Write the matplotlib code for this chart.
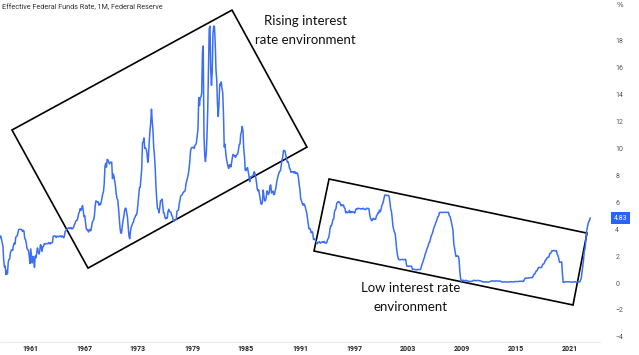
import numpy as np
import matplotlib
matplotlib.use("Agg")
import matplotlib.pyplot as plt
import matplotlib.transforms as mtransforms
from matplotlib.patches import Polygon

# ---------------------------------------------------------------
# Effective Federal Funds Rate, monthly (%), Aug 1957 -> Apr 2023
# ---------------------------------------------------------------
rate_1950s = [3.24, 3.47, 3.50, 3.28, 2.98,
              2.72, 1.67, 1.20, 1.26, 0.63, 0.93, 0.68, 1.53, 1.76, 1.80, 2.27, 2.42,
              2.48, 2.43, 2.80, 2.96, 2.90, 3.39, 3.47, 3.50, 3.76, 3.98, 4.00, 3.99]
rate_1960s = [3.99, 3.97, 3.84, 3.92, 3.85, 3.32, 3.23, 2.98, 2.60, 2.47, 2.44, 1.98,
              1.45, 2.54, 2.02, 1.49, 1.98, 1.73, 1.17, 2.00, 1.88, 2.26, 2.61, 2.33,
              2.15, 2.37, 2.85, 2.78, 2.36, 2.68, 2.71, 2.93, 2.90, 2.90, 2.94, 2.93,
              2.92, 3.00, 2.98, 2.90, 3.00, 2.99, 3.02, 3.49, 3.48, 3.50, 3.48, 3.38,
              3.48, 3.48, 3.43, 3.47, 3.50, 3.50, 3.42, 3.50, 3.45, 3.36, 3.52, 3.85,
              3.90, 3.98, 4.04, 4.09, 4.10, 4.04, 4.09, 4.12, 4.01, 4.08, 4.10, 4.32,
              4.42, 4.60, 4.65, 4.67, 4.90, 5.17, 5.30, 5.53, 5.40, 5.53, 5.76, 5.40,
              4.94, 5.00, 4.53, 4.05, 3.94, 3.98, 3.79, 3.90, 3.99, 3.88, 4.13, 4.51,
              4.61, 4.71, 5.05, 5.76, 6.11, 6.07, 6.02, 6.03, 5.78, 5.91, 5.82, 6.02,
              6.30, 6.61, 6.79, 7.41, 8.67, 8.90, 8.61, 9.19, 9.15, 9.00, 8.85, 8.97]
rate_1970s = [8.98, 8.98, 7.76, 8.10, 7.94, 7.60, 7.21, 6.61, 6.29, 6.20, 5.60, 4.90,
              4.14, 3.72, 3.71, 4.16, 4.63, 4.91, 5.31, 5.56, 5.55, 5.20, 4.91, 4.14,
              3.50, 3.29, 3.83, 4.17, 4.27, 4.46, 4.55, 4.80, 4.87, 5.04, 5.06, 5.33,
              5.94, 6.58, 7.09, 7.12, 7.84, 8.49, 10.40, 10.50, 10.78, 10.01, 10.03, 9.95,
              9.65, 8.97, 9.35, 10.51, 11.31, 11.93, 12.92, 12.01, 11.34, 10.06, 9.45, 8.53,
              7.13, 6.24, 5.54, 5.49, 5.22, 5.55, 6.10, 6.14, 6.24, 5.82, 5.22, 5.20,
              4.87, 4.77, 4.84, 4.82, 5.29, 5.48, 5.31, 5.29, 5.25, 5.02, 4.95, 4.65,
              4.61, 4.68, 4.69, 4.73, 5.35, 5.39, 5.42, 5.90, 6.14, 6.47, 6.51, 6.56,
              6.70, 6.78, 6.79, 6.89, 7.36, 7.60, 7.81, 8.04, 8.45, 8.96, 9.76, 10.03,
              10.07, 10.06, 10.09, 10.01, 10.24, 10.29, 10.47, 10.94, 11.43, 13.77, 13.18, 13.78]
rate_1980s = [13.82, 14.13, 17.19, 17.61, 10.98, 9.47, 9.03, 9.61, 10.87, 12.81, 15.85, 18.90,
              19.08, 15.93, 14.70, 15.72, 18.52, 19.10, 19.04, 17.82, 15.87, 15.08, 13.31, 12.37,
              13.22, 14.78, 14.68, 14.94, 14.45, 14.15, 12.59, 10.12, 10.31, 9.71, 9.20, 8.95,
              8.68, 8.51, 8.77, 8.80, 8.63, 8.98, 9.37, 9.56, 9.45, 9.48, 9.34, 9.47,
              9.56, 9.59, 9.91, 10.29, 10.32, 11.06, 11.23, 11.64, 11.30, 9.99, 9.43, 8.38,
              8.35, 8.50, 8.58, 8.27, 7.97, 7.53, 7.88, 7.90, 7.92, 7.99, 8.05, 8.27,
              8.14, 7.86, 7.48, 6.99, 6.85, 6.92, 6.56, 6.17, 5.89, 5.85, 6.04, 6.91,
              6.43, 6.10, 6.13, 6.37, 6.85, 6.73, 6.58, 6.73, 7.22, 7.29, 6.69, 6.77,
              6.83, 6.58, 6.58, 6.87, 7.09, 7.51, 7.75, 8.01, 8.19, 8.30, 8.35, 8.76,
              9.12, 9.36, 9.85, 9.84, 9.81, 9.53, 9.24, 8.99, 9.02, 8.84, 8.55, 8.45]
rate_1990s = [8.23, 8.24, 8.28, 8.26, 8.18, 8.29, 8.15, 8.13, 8.20, 8.11, 7.81, 7.31,
              6.91, 6.25, 6.12, 5.91, 5.78, 5.90, 5.82, 5.66, 5.45, 5.21, 4.81, 4.43,
              4.03, 4.06, 3.98, 3.73, 3.82, 3.76, 3.25, 3.30, 3.22, 3.10, 3.09, 2.92,
              3.02, 3.03, 3.07, 2.96, 3.00, 3.04, 3.06, 3.03, 3.09, 2.99, 3.02, 2.96,
              3.05, 3.25, 3.34, 3.56, 4.01, 4.25, 4.26, 4.47, 4.73, 4.76, 5.29, 5.45,
              5.53, 5.92, 5.98, 6.05, 6.01, 6.00, 5.85, 5.74, 5.80, 5.76, 5.80, 5.60,
              5.56, 5.22, 5.31, 5.22, 5.24, 5.27, 5.40, 5.22, 5.30, 5.24, 5.31, 5.29,
              5.25, 5.19, 5.39, 5.51, 5.50, 5.56, 5.52, 5.54, 5.54, 5.50, 5.52, 5.50,
              5.56, 5.51, 5.49, 5.45, 5.49, 5.56, 5.54, 5.55, 5.51, 5.07, 4.83, 4.68,
              4.63, 4.76, 4.81, 4.74, 4.74, 4.76, 4.99, 5.07, 5.22, 5.20, 5.42, 5.30]
rate_2000s = [5.45, 5.73, 5.85, 6.02, 6.27, 6.53, 6.54, 6.50, 6.52, 6.51, 6.51, 6.40,
              5.98, 5.49, 5.31, 4.80, 4.21, 3.97, 3.77, 3.65, 3.07, 2.49, 2.09, 1.82,
              1.73, 1.74, 1.73, 1.75, 1.75, 1.75, 1.73, 1.74, 1.75, 1.75, 1.34, 1.24,
              1.24, 1.26, 1.25, 1.26, 1.26, 1.22, 1.01, 1.03, 1.01, 1.01, 1.00, 0.98,
              1.00, 1.01, 1.00, 1.00, 1.00, 1.03, 1.26, 1.43, 1.61, 1.76, 1.93, 2.16,
              2.28, 2.50, 2.63, 2.79, 3.00, 3.04, 3.26, 3.50, 3.62, 3.78, 4.00, 4.16,
              4.29, 4.49, 4.59, 4.79, 4.94, 4.99, 5.24, 5.25, 5.25, 5.25, 5.25, 5.24,
              5.25, 5.26, 5.26, 5.25, 5.25, 5.25, 5.26, 5.02, 4.94, 4.76, 4.49, 4.24,
              3.94, 2.98, 2.61, 2.28, 1.98, 2.00, 2.01, 2.00, 1.81, 0.97, 0.39, 0.16,
              0.15, 0.22, 0.18, 0.15, 0.18, 0.21, 0.16, 0.16, 0.15, 0.12, 0.12, 0.12]
rate_2010s = [0.11, 0.13, 0.16, 0.20, 0.20, 0.18, 0.18, 0.19, 0.19, 0.19, 0.19, 0.18,
              0.17, 0.16, 0.14, 0.10, 0.09, 0.09, 0.07, 0.10, 0.08, 0.07, 0.08, 0.07,
              0.08, 0.10, 0.13, 0.14, 0.16, 0.16, 0.16, 0.13, 0.14, 0.16, 0.16, 0.16,
              0.14, 0.15, 0.14, 0.15, 0.11, 0.09, 0.09, 0.08, 0.08, 0.09, 0.08, 0.09,
              0.07, 0.07, 0.08, 0.09, 0.09, 0.10, 0.09, 0.09, 0.09, 0.09, 0.09, 0.12,
              0.11, 0.11, 0.11, 0.12, 0.12, 0.13, 0.13, 0.14, 0.14, 0.12, 0.12, 0.24,
              0.34, 0.38, 0.36, 0.37, 0.37, 0.38, 0.39, 0.40, 0.40, 0.40, 0.41, 0.54,
              0.65, 0.66, 0.79, 0.90, 0.91, 1.04, 1.15, 1.16, 1.15, 1.15, 1.16, 1.30,
              1.41, 1.42, 1.51, 1.69, 1.70, 1.82, 1.91, 1.91, 1.95, 2.19, 2.20, 2.27,
              2.40, 2.40, 2.41, 2.42, 2.39, 2.38, 2.40, 2.13, 2.04, 1.83, 1.55, 1.55]
rate_2020s = [1.55, 1.58, 0.65, 0.05, 0.05, 0.08, 0.09, 0.10, 0.09, 0.09, 0.09, 0.09,
              0.09, 0.08, 0.07, 0.07, 0.06, 0.08, 0.10, 0.09, 0.08, 0.08, 0.08, 0.08,
              0.08, 0.08, 0.20, 0.33, 0.77, 1.21, 1.68, 2.33, 2.56, 3.08, 3.78, 4.10,
              4.33, 4.57, 4.65, 4.83]

rates = np.array(rate_1950s + rate_1960s + rate_1970s + rate_1980s
                 + rate_1990s + rate_2000s + rate_2010s + rate_2020s)
dates = 1957 + 7 / 12 + np.arange(len(rates)) / 12   # first month: Aug 1957

year_ticks = [1961, 1967, 1973, 1979, 1985, 1991, 1997, 2003, 2009, 2015, 2021]
price_ticks = [-4, -2, 0, 2, 4, 6, 8, 10, 12, 14, 16, 18]

# annotation boxes (year, %)
box_rising_x = [1959.0, 1983.45, 1991.78, 1967.45]
box_rising_y = [11.37, 20.28, 10.10, 1.11]
box_low_x = [1994.23, 2022.89, 2021.34, 1992.56]
box_low_y = [7.73, 3.71, -1.63, 2.38]

W, H = 639, 355
fig = plt.figure(figsize=(W / 100, H / 100), dpi=100)
ax = fig.add_axes([0, 13 / H, 600 / W, 342 / H])

ax.plot(dates, rates, color='#3b6ef5', lw=1.1, solid_joinstyle='round')

ax.add_patch(Polygon(np.column_stack([box_rising_x, box_rising_y]), closed=True,
                     fill=False, edgecolor='black', lw=1.2))
ax.add_patch(Polygon(np.column_stack([box_low_x, box_low_y]), closed=True,
                     fill=False, edgecolor='black', lw=1.2))

ax.set_xlim(1957.67, 1957.67 + 600 / 9)
ax.set_ylim(-4.38, 21.03)

ax.yaxis.tick_right()
ax.set_yticks(price_ticks)
ax.tick_params(axis='y', length=0, pad=11, labelsize=5, labelcolor='#555555')
ax.set_xticks(year_ticks)
ax.set_xticklabels([str(y) for y in year_ticks], fontweight='bold')
ax.tick_params(axis='x', length=0, pad=2.5, labelsize=5, labelcolor='#222222')
for lab in ax.get_xticklabels() + ax.get_yticklabels():
    lab.set_family('Roboto')

for s in ['top', 'left', 'right']:
    ax.spines[s].set_visible(False)
ax.spines['bottom'].set_color('#e6e8ee')
ax.spines['bottom'].set_linewidth(0.6)

# last value marker on the price scale
trans = mtransforms.blended_transform_factory(ax.transAxes, ax.transData)
ax.text(614 / 600, rates[-1], f'{rates[-1]:.2f}', transform=trans, clip_on=False,
        ha='left', va='center', fontsize=5, color='white', family='Roboto',
        bbox=dict(boxstyle='square,pad=0.4', fc='#2962ff', ec='none'))

fig.text(620 / W, 1 - 5 / H, '%', ha='center', va='center', fontsize=5, color='#555555')
fig.text(2 / W, 1 - 8 / H, 'Effective Federal Funds Rate, 1M, Federal Reserve',
         ha='left', va='center', fontsize=5.2, color='#333333', family='Roboto')

note_style = dict(ha='center', va='center', fontsize=9.5, family='Lato', color='#111111')
fig.text(305 / W, 1 - 21 / H, 'Rising interest', **note_style)
fig.text(305 / W, 1 - 40 / H, 'rate environment', **note_style)
fig.text(411 / W, 1 - 288 / H, 'Low interest rate', **note_style)
fig.text(411 / W, 1 - 307 / H, 'environment', **note_style)

fig.savefig('out.png', dpi=100)
